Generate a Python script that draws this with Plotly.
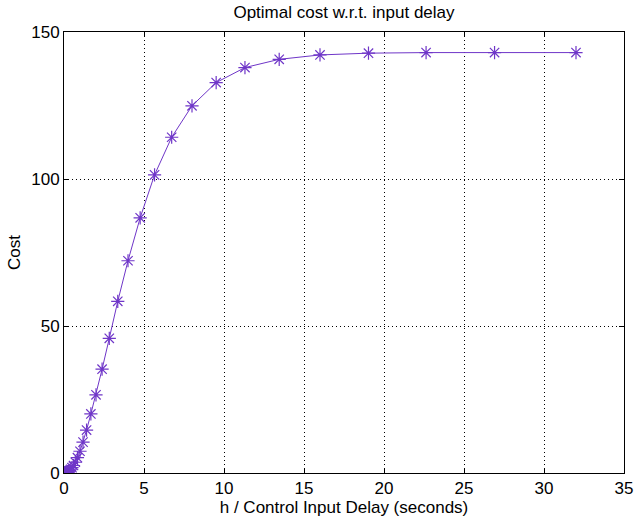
import plotly.graph_objects as go

delay = [0.0625, 0.0743, 0.0884, 0.105, 0.125, 0.149, 0.177, 0.210, 0.25, 0.297,
         0.354, 0.420, 0.5, 0.595, 0.707, 0.841, 1.0, 1.19, 1.41, 1.68,
         2.0, 2.38, 2.83, 3.36, 4.0, 4.76, 5.66, 6.73, 8.0, 9.51,
         11.31, 13.45, 16.0, 19.03, 22.63, 26.91, 32.0]
cost = [0.03, 0.04, 0.055, 0.075, 0.11, 0.16, 0.22, 0.32, 0.45, 0.63,
        0.9, 1.27, 1.8, 2.55, 3.65, 5.2, 7.4, 10.5, 14.6, 20.1,
        26.6, 35.3, 45.8, 58.4, 72.2, 86.8, 101.4, 114.2, 124.9, 132.8,
        137.9, 140.7, 142.2, 142.8, 143.0, 143.0, 143.0]

x_ticks = [0, 5, 10, 15, 20, 25, 30, 35]
y_ticks = [0, 50, 100, 150]

color = "#6f36c8"
FONT = "Liberation Sans, Arial, sans-serif"

fig = go.Figure()
fig.add_trace(go.Scatter(
    x=delay, y=cost, mode="lines+markers",
    line=dict(color=color, width=1),
    marker=dict(symbol="asterisk-open", size=11, color=color,
                line=dict(color=color, width=1.2)),
    showlegend=False,
))

axis_common = dict(
    showline=True, linecolor="black", linewidth=1, mirror="ticks",
    ticks="inside", ticklen=5, tickcolor="black",
    showgrid=True, gridcolor="black", gridwidth=1, griddash="1px,3px",
    zeroline=False, automargin=False,
    tickfont=dict(family=FONT, size=17, color="black"),
)

fig.update_layout(
    width=635, height=523,
    margin=dict(l=64, r=11, t=32, b=50),
    paper_bgcolor="white", plot_bgcolor="white",
    title=dict(text="Optimal cost w.r.t. input delay", x=0.5, xref="paper",
               xanchor="center",
               y=0.9885, yref="container", yanchor="top", pad=dict(t=0),
               font=dict(family=FONT, size=17, color="black")),
    xaxis=dict(range=[0, 35], tickvals=x_ticks,
               title=dict(text="h / Control Input Delay (seconds)", standoff=1,
                          font=dict(family=FONT, size=17, color="black")),
               **axis_common),
    yaxis=dict(range=[0, 150], tickvals=y_ticks,
               title=dict(text="Cost", standoff=6,
                          font=dict(family=FONT, size=17, color="black")),
               **axis_common),
)

fig.write_html(
    "out.html",
    config={"displayModeBar": False},
    post_script="document.body.style.margin='0';document.body.style.overflow='hidden';",
)
